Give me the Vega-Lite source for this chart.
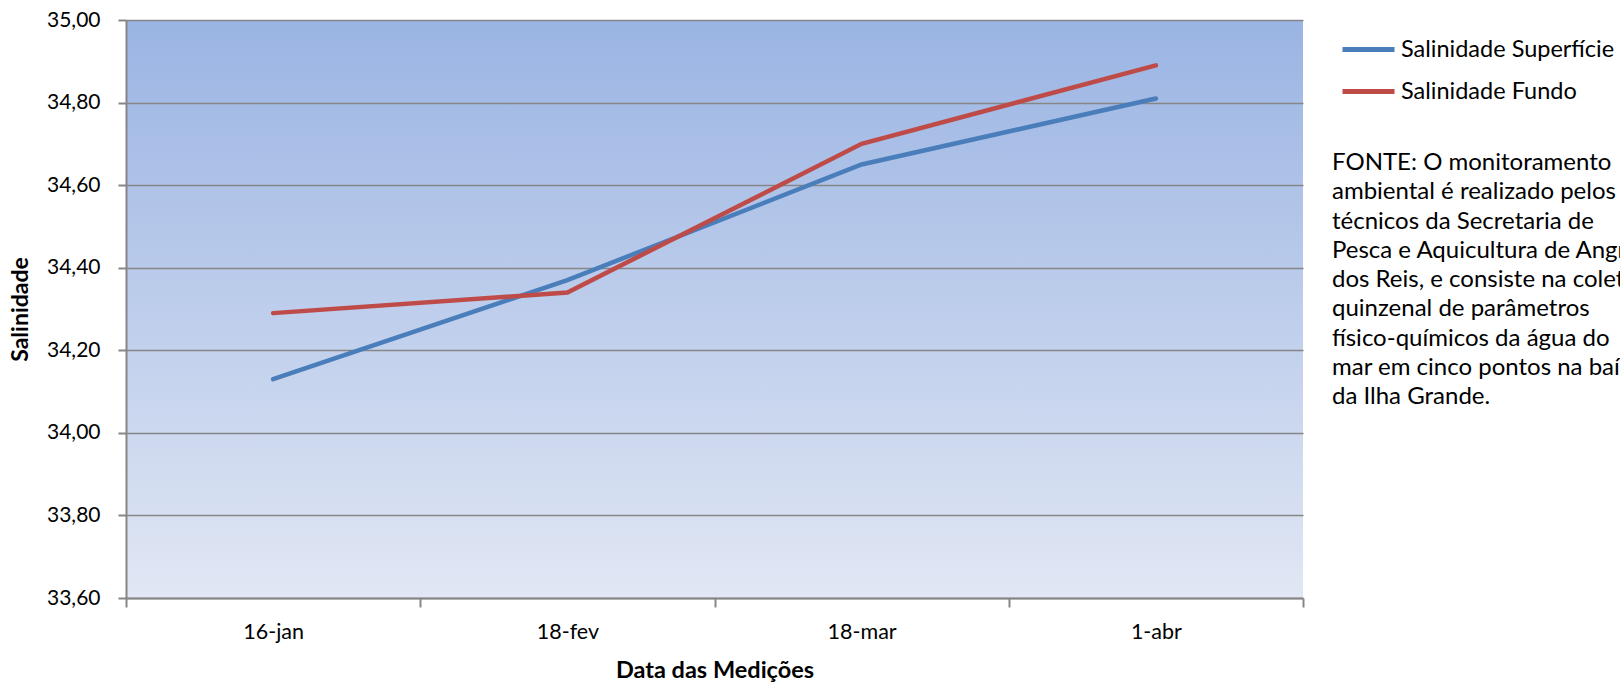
{
  "$schema": "https://vega.github.io/schema/vega-lite/v6.json",
  "autosize": {"type": "none"},
  "width": 1177,
  "height": 578,
  "padding": {"left": 126, "top": 20, "right": 317, "bottom": 86},
  "background": "white",
  "config": {
    "font": "Lato",
    "view": {
      "stroke": null,
      "fill": {"gradient": "linear", "x1": 0, "y1": 0, "x2": 0, "y2": 1,
        "stops": [{"offset": 0, "color": "#9ab4e3"}, {"offset": 1, "color": "#e1e7f4"}]}
    }
  },
  "data": {"values": [
    {"data": "16-jan", "serie": "Salinidade Superfície", "valor": 34.13},
    {"data": "18-fev", "serie": "Salinidade Superfície", "valor": 34.37},
    {"data": "18-mar", "serie": "Salinidade Superfície", "valor": 34.65},
    {"data": "1-abr", "serie": "Salinidade Superfície", "valor": 34.81},
    {"data": "16-jan", "serie": "Salinidade Fundo", "valor": 34.29},
    {"data": "18-fev", "serie": "Salinidade Fundo", "valor": 34.34},
    {"data": "18-mar", "serie": "Salinidade Fundo", "valor": 34.70},
    {"data": "1-abr", "serie": "Salinidade Fundo", "valor": 34.89}
  ]},
  "layer": [
    {
      "mark": {"type": "line", "strokeWidth": 4.5, "strokeCap": "round"},
      "encoding": {
        "x": {
          "field": "data", "type": "ordinal",
          "sort": ["16-jan", "18-fev", "18-mar", "1-abr"],
          "scale": {"type": "band", "paddingInner": 0, "paddingOuter": 0},
          "title": "Data das Medições",
          "axis": {
            "labelAngle": 0, "labelFontSize": 21.5, "labelColor": "#000000",
            "domainColor": "#868686", "domainWidth": 2, "tickColor": "#868686", "tickWidth": 2,
            "tickSize": 9, "tickBand": "extent", "labelPadding": 14,
            "titleFontSize": 23.5, "titleFontWeight": "bold", "titleColor": "#000000", "titlePadding": 16,
            "grid": false
          }
        },
        "y": {
          "field": "valor", "type": "quantitative",
          "scale": {"domain": [33.6, 35.0], "zero": false, "nice": false},
          "title": "Salinidade",
          "axis": {
            "values": [33.6, 33.8, 34.0, 34.2, 34.4, 34.6, 34.8, 35.0],
            "labelExpr": "replace(format(datum.value, '.2f'), '.', ',')",
            "labelFontSize": 21, "labelColor": "#000000", "labelPadding": 18,
            "domainColor": "#868686", "domainWidth": 2, "tickColor": "#868686", "tickWidth": 2, "tickSize": 8,
            "grid": true, "gridColor": "#868686", "gridWidth": 1.5, "gridOpacity": 1,
            "titleFontSize": 23, "titleFontWeight": "bold", "titleColor": "#000000", "titlePadding": 14
          }
        },
        "color": {
          "field": "serie", "type": "nominal",
          "sort": ["Salinidade Superfície", "Salinidade Fundo"],
          "scale": {"domain": ["Salinidade Superfície", "Salinidade Fundo"], "range": ["#4a7ebb", "#be4b48"]},
          "legend": {
            "title": null, "orient": "none", "legendX": 1214, "legendY": 1,
            "symbolType": "stroke", "symbolSize": 2704, "symbolStrokeWidth": 5,
            "labelFontSize": 23.5, "labelColor": "#000000", "labelOffset": 4, "rowPadding": 2,
            "labelLimit": 400
          }
        }
      }
    },
    {
      "data": {"values": [{"texto": ["FONTE: O monitoramento", "ambiental é realizado pelos", "técnicos da Secretaria de", "Pesca e Aquicultura de Angra", "dos Reis, e consiste na coleta", "quinzenal de parâmetros", "físico-químicos da água do", "mar em cinco pontos na baía", "da Ilha Grande."]}]},
      "mark": {"type": "text", "align": "left", "baseline": "alphabetic", "fontSize": 24, "lineHeight": 29.25, "color": "#000000", "dx": 29, "clip": false},
      "encoding": {
        "text": {"field": "texto"},
        "x": {"value": "width"},
        "y": {"value": 150}
      }
    }
  ]
}
